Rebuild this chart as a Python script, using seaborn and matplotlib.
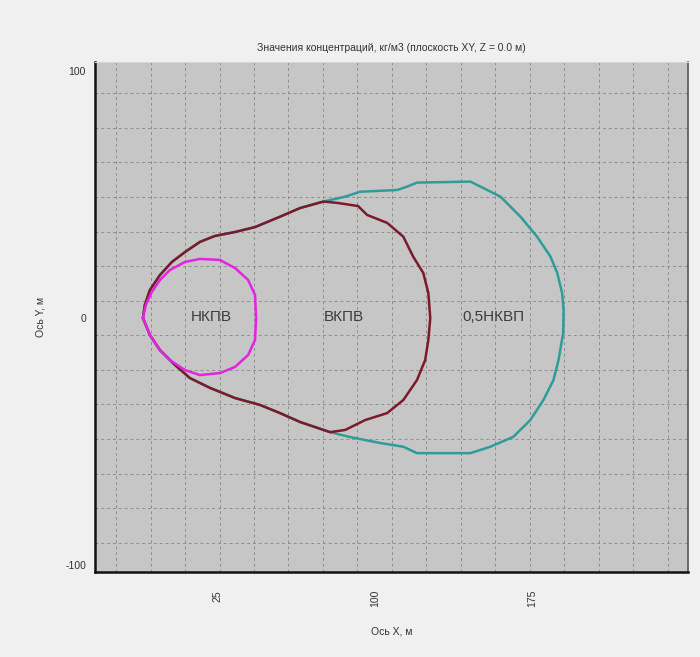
import numpy as np
import pandas as pd
import matplotlib
matplotlib.use("Agg")
import matplotlib.pyplot as plt
import seaborn as sns
from matplotlib.ticker import FixedLocator

# zone contours (x, y in metres)
nkpv_x = [-10.2, -8.8, -6.0, -2.1, 2.6, 9.8, 16.9, 26.4, 33.6, 39.8, 43.1, 43.6,
          43.1, 39.8, 33.6, 26.4, 16.9, 9.8, 2.6, -2.1, -6.9, -10.2]
nkpv_y = [0.0, 5.3, 10.5, 15.4, 19.4, 22.7, 23.9, 23.5, 20.2, 15.4, 9.3, 0.0,
          -8.9, -15.0, -19.8, -22.3, -23.1, -21.1, -17.0, -13.0, -6.9, 0.0]

vkpv_x = [-10.2, -9.3, -6.9, -2.1, 3.6, 9.8, 16.9, 24.0, 33.6, 43.1, 55.0, 64.5,
          75.5, 82.1, 92.1, 96.4, 105.9, 113.6, 118.3, 123.1, 125.5, 126.4,
          125.5, 124.0, 120.1, 113.6, 105.9, 95.5, 86.0, 78.8, 64.5, 55.0,
          45.5, 33.6, 21.7, 12.1, 5.0, -2.1, -6.9, -10.2]
vkpv_y = [0.0, 5.3, 11.3, 17.4, 22.7, 26.7, 30.8, 33.2, 34.8, 36.8, 41.0, 44.5,
          47.1, 46.6, 45.3, 41.7, 38.5, 32.9, 24.8, 18.2, 10.1, 0.0,
          -8.9, -17.0, -25.1, -33.2, -38.5, -41.3, -45.3, -46.2, -42.1, -38.5,
          -35.2, -32.4, -28.3, -24.3, -19.0, -13.0, -6.9, 0.0]

half_x = [-10.2, -9.3, -6.9, -2.1, 3.6, 9.8, 16.9, 24.0, 33.6, 43.1, 55.0, 64.5,
          75.5, 85.9, 93.1, 110.7, 115.5, 120.2, 145.5, 150.2, 159.8, 169.3,
          177.2, 183.6, 186.8, 189.1, 189.8, 189.6, 187.4, 185.0, 180.2, 174.0,
          165.9, 155.0, 145.5, 120.1, 113.6, 102.6, 88.3, 78.8, 64.5, 55.0,
          45.5, 33.6, 21.7, 12.1, 5.0, -2.1, -6.9, -10.2]
half_y = [0.0, 5.3, 11.3, 17.4, 22.7, 26.7, 30.8, 33.2, 34.8, 36.8, 41.0, 44.5,
          47.1, 49.1, 51.1, 51.8, 53.2, 54.8, 55.2, 53.2, 49.1, 41.0,
          32.9, 24.8, 18.2, 10.1, 3.2, -6.1, -17.0, -25.1, -33.2, -41.3,
          -48.1, -52.1, -54.7, -54.7, -52.1, -50.6, -48.2, -46.2, -42.1, -38.5,
          -35.2, -32.4, -28.3, -24.3, -19.0, -13.0, -6.9, 0.0]

zone_names = ["0,5НКВП", "ВКПВ", "НКПВ"]
zone_colors = ["#2f9c97", "#7c1a2c", "#e424e0"]
label_x = [156.5, 85.5, 22.5]
label_y = [0.5, 0.5, 0.5]

x_ticks = [25, 100, 175]
y_ticks = [-100, 0, 100]

frames = []
for name, xs, ys in zip(zone_names, [half_x, vkpv_x, nkpv_x], [half_y, vkpv_y, nkpv_y]):
    frames.append(pd.DataFrame({"x": xs, "y": ys, "zone": name, "i": range(len(xs))}))
df = pd.concat(frames, ignore_index=True)

sns.set_style("white", {"axes.facecolor": "#c6c6c6", "figure.facecolor": "#f0f0f0"})
plt.rcParams["font.family"] = ["Liberation Sans", "DejaVu Sans"]
plt.rcParams["axes.unicode_minus"] = False

fig = plt.figure(figsize=(7, 6.57), dpi=100)
ax = fig.add_axes([0.1357, 0.1294, 0.8473, 0.7762])

sns.lineplot(data=df, x="x", y="y", hue="zone", units="zone", estimator=None, sort=False,
             palette=dict(zip(zone_names, zone_colors)), linewidth=1.8, legend=False, ax=ax)

for name, lx, ly in zip(zone_names, label_x, label_y):
    ax.text(lx, ly, name, ha="center", va="center", fontsize=11, color="#3c3c3c")

ax.set_xlim(-33, 249)
ax.set_ylim(-102.8, 103.6)

# grid (drawn like the calculation mesh of the original program)
ax.xaxis.set_minor_locator(FixedLocator(np.arange(-23.0, 249, 16.4)))
ax.yaxis.set_minor_locator(FixedLocator(np.arange(-91, 92, 14)))
ax.grid(which="minor", color="#8e8e8e", linestyle=(0, (3, 3)), linewidth=0.7)
ax.tick_params(which="minor", length=0)
ax.set_axisbelow(True)

ax.set_xticks(x_ticks)
ax.set_xticklabels([str(v) for v in x_ticks], rotation=90)
ax.set_yticks(y_ticks)
ax.tick_params(which="major", labelsize=7.5, length=3, color="#555555", labelcolor="#333333")
ax.tick_params(axis="x", which="major", pad=10)

for side in ["left", "bottom"]:
    ax.spines[side].set_color("#111111")
    ax.spines[side].set_linewidth(1.8)
ax.spines["right"].set_color("#555555")
ax.spines["right"].set_linewidth(1.2)
ax.spines["top"].set_color("#d8d8d8")
ax.spines["top"].set_linewidth(0.8)

ax.set_title("Значения концентраций, кг/м3 (плоскость XY, Z = 0.0 м)",
             fontsize=7.5, color="#333333", pad=8)
ax.set_xlabel("Ось X, м", fontsize=7.5, color="#333333", labelpad=14)
ax.set_ylabel("Ось Y, м", fontsize=7.5, color="#333333", labelpad=14)

fig.savefig("out.png", dpi=100)
